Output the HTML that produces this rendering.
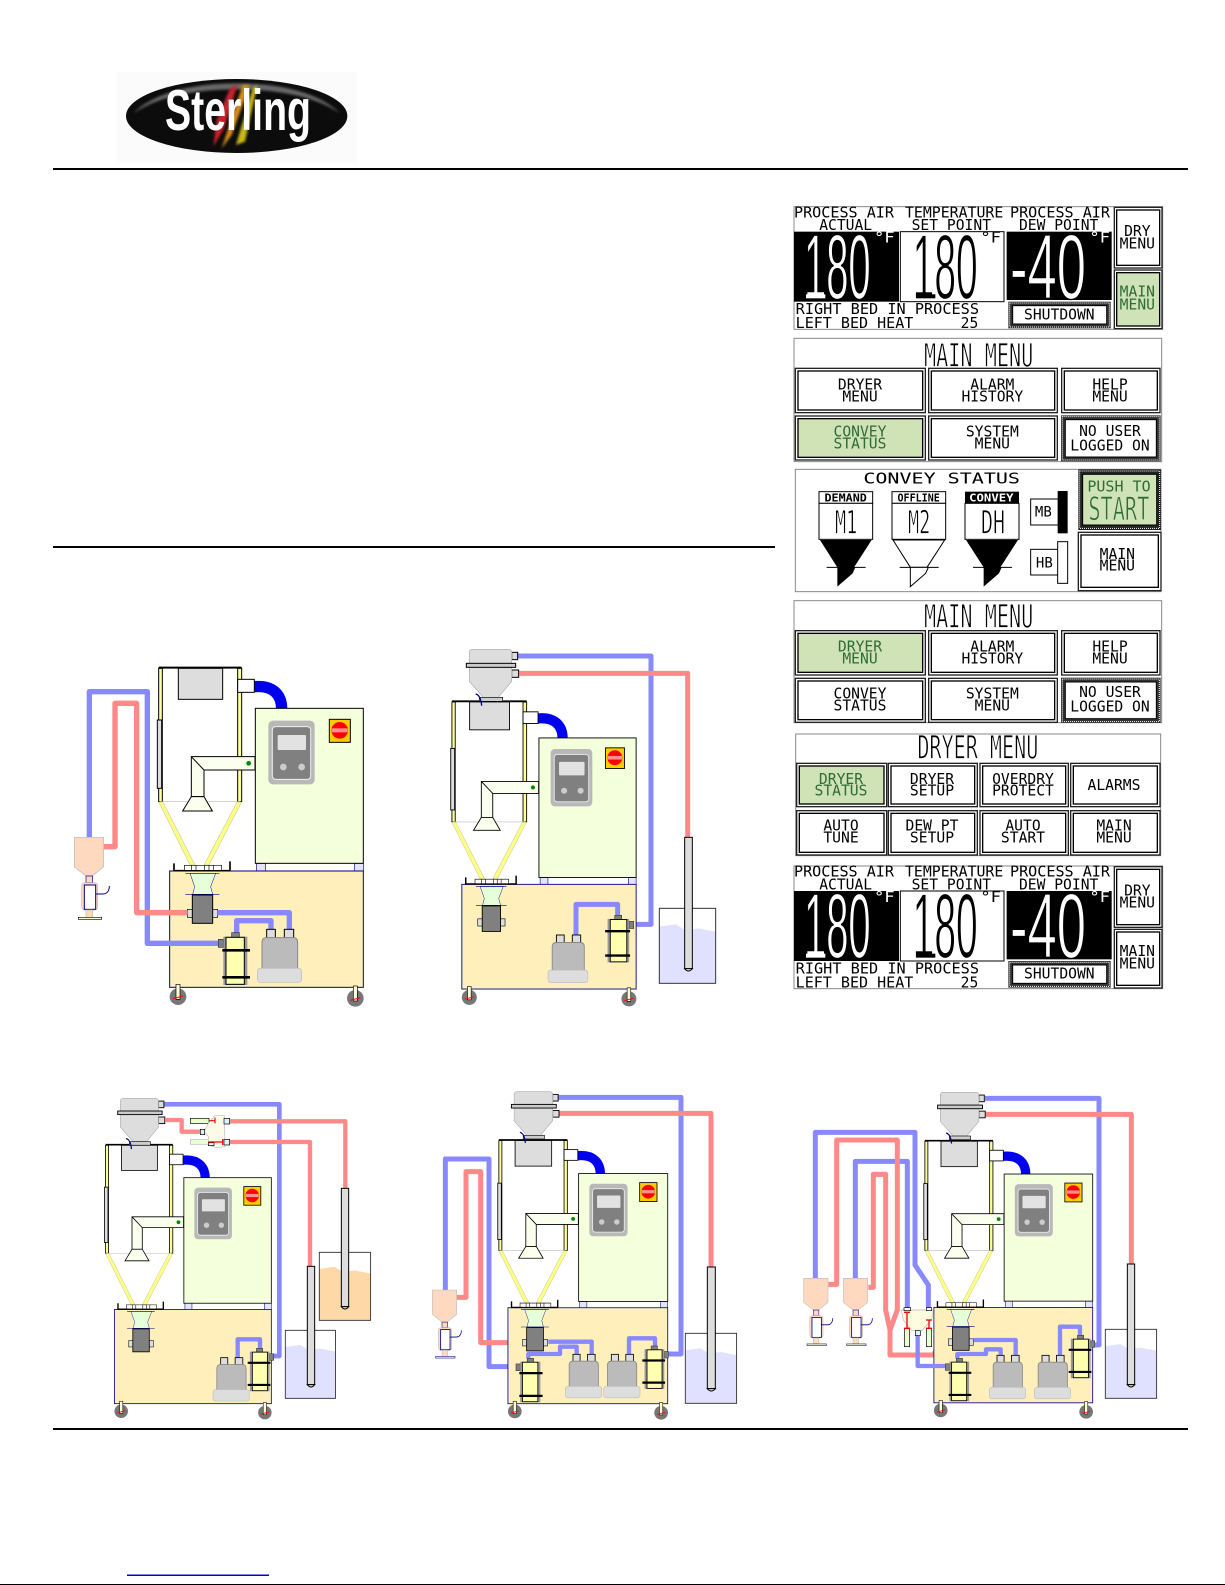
<!DOCTYPE html>
<html><head><meta charset="utf-8"><title>Sterling</title>
<style>
html,body{margin:0;padding:0;background:#fff;width:1225px;height:1585px;overflow:hidden}
svg{display:block}
.m{font-family:"DejaVu Sans Mono","Liberation Mono",monospace;font-size:44px;white-space:pre;fill:#000}
.c{text-anchor:middle}
.g{fill:#2f6b35}
.w{fill:#fff}
.big{font-family:"Liberation Sans",sans-serif;font-size:275px}
.bw{fill:#fff;stroke:#000;stroke-width:4}
.bb{fill:#000;stroke:#fff;stroke-width:4}
.t{font-size:96px;stroke:#fff;stroke-width:2.5}
.tg{stroke:#cfe3b7}
.o{fill:#fff;stroke:#222;stroke-width:4}
.i{fill:#fff;stroke:#000;stroke-width:4}
.gr{fill:#cfe3b7;stroke:#000;stroke-width:4}
.d{fill:none;stroke:#fff;stroke-width:3;stroke-dasharray:3 3}
.pb{fill:none;stroke:#8888ff;stroke-linejoin:round}
.pr{fill:none;stroke:#ff8888;stroke-linejoin:round}
.wand{fill:#ddd;stroke:#000;stroke-width:3}
</style></head><body>
<svg width="1225" height="1585" viewBox="0 0 1225 1585" xmlns="http://www.w3.org/2000/svg">
<defs>
<filter id="bl" x="-30%" y="-30%" width="160%" height="160%"><feGaussianBlur stdDeviation="4"/></filter>
<g id="caster"><circle cx="5" cy="30" r="25" fill="#777"/><rect x="-1" y="-7" width="12" height="45" fill="#ffffd8" stroke="#000" stroke-width="2"/><path d="M-10 36L20 28" stroke="#f00" stroke-width="3"/></g>
<g id="dryer">
<path d="M583 140C640 135 665 165 665 207" fill="none" stroke="#0000ee" stroke-width="34"/>
<rect x="300" y="85" width="240" height="400" fill="#fff"/>
<rect x="296" y="85" width="11" height="400" fill="#ffff99" stroke="#000" stroke-width="3"/>
<rect x="533" y="85" width="12" height="400" fill="#ffff99" stroke="#000" stroke-width="3"/>
<rect x="292" y="240" width="13" height="205" fill="#ddd" stroke="#000" stroke-width="3"/>
<path d="M296 83H545" stroke="#000" stroke-width="6"/>
<path d="M300 485H540" stroke="#bbb" stroke-width="2"/>
<rect x="355" y="85" width="133" height="93" fill="#ddd" stroke="#000" stroke-width="3"/>
<rect x="533" y="118" width="50" height="39" fill="#fff" stroke="#000" stroke-width="3"/>
<path d="M296 486H309L405 675H390ZM531 486H545L447 675H432Z" fill="#ffff80" stroke="#b5b5a0" stroke-width="1.5"/>
<path d="M394 350H585V390H432V470H394Z" fill="#fbffee" stroke="#000" stroke-width="3"/>
<path d="M394 350L432 390" stroke="#000" stroke-width="3"/>
<path d="M394 470H432L457 513H368Z" fill="#fbffee" stroke="#000" stroke-width="3"/>
<circle cx="566" cy="370" r="7" fill="#080"/>
<rect x="590" y="670" width="26" height="24" fill="#e4e4ff" stroke="#008" stroke-width="2"/>
<rect x="884" y="670" width="26" height="24" fill="#e4e4ff" stroke="#008" stroke-width="2"/>
<rect x="586" y="205" width="324" height="465" fill="#f4ffdc" stroke="#000" stroke-width="3"/>
<rect x="625" y="242" width="139" height="191" rx="14" fill="#b8b8b8"/>
<rect x="637" y="260" width="115" height="158" rx="10" fill="#808080" stroke="#eee" stroke-width="3"/>
<rect x="653" y="285" width="85" height="45" rx="3" fill="#e2e2e2"/>
<circle cx="670" cy="381" r="10" fill="#ccc"/><circle cx="725" cy="381" r="10" fill="#ccc"/>
<rect x="808" y="238" width="63" height="69" fill="#ffcc00" stroke="#000" stroke-width="3"/>
<circle cx="839" cy="271" r="25" fill="#f00"/>
<rect x="815" y="265" width="48" height="12" fill="#ff9090"/>
<rect x="329" y="693" width="581" height="349" fill="#fff0bb" stroke="#008" stroke-width="3"/>
<path d="M342 670V692H510V664" fill="none" stroke="#000" stroke-width="5"/>
<path d="M373 691V676H485V691ZM395 676V691M408 676V691M434 676V691M447 676V691M460 676V691" fill="#fff" stroke="#000" stroke-width="2"/>
<path d="M390 700H467L452 740L458 763H398L404 740Z" fill="#e5ffd8" stroke="#008" stroke-width="1.5"/>
<path d="M376 700H478M376 763H478" stroke="#008" stroke-width="2"/>
<rect x="382" y="808" width="91" height="24" fill="#ddd" stroke="#000" stroke-width="2"/>
<rect x="397" y="765" width="61" height="85" fill="#808080" stroke="#000" stroke-width="3"/>
<use href="#caster" x="349" y="1040"/><use href="#caster" x="881" y="1045"/>
</g>
<g id="filter">
<rect x="0" y="20" width="15" height="24" fill="#808080" stroke="#333" stroke-width="2"/>
<rect x="15" y="12" width="72" height="145" fill="#999"/>
<rect x="40" y="0" width="23" height="14" fill="#808080" stroke="#333" stroke-width="2"/>
<rect x="23" y="14" width="55" height="141" fill="#ffffb0" stroke="#000" stroke-width="3"/>
<path d="M12 53H95M12 134H95" stroke="#000" stroke-width="8"/>
</g>
<g id="pump">
<rect x="28" y="0" width="26" height="26" fill="#ddd" stroke="#000" stroke-width="3"/>
<rect x="81" y="0" width="28" height="26" fill="#ddd" stroke="#000" stroke-width="3"/>
<path d="M14 40Q14 25 28 25H108Q121 25 121 40V122H14Z" fill="#bbb" stroke="#888" stroke-width="3"/>
<rect x="0" y="117" width="133" height="42" rx="9" fill="#ddd" stroke="#bbb" stroke-width="2"/>
</g>
<g id="loader">
<path d="M0 0H88V88L54 116H35L0 88Z" fill="#ffd8c0" stroke="#bbb" stroke-width="2"/>
<rect x="35" y="116" width="20" height="20" fill="#ffd8c0" stroke="#008" stroke-width="2"/>
<rect x="22" y="136" width="48" height="82" rx="10" fill="#ffd8c0" stroke="#bbb" stroke-width="2"/>
<rect x="30" y="143" width="34" height="73" fill="#fff" stroke="#008" stroke-width="3"/>
<rect x="35" y="218" width="20" height="22" fill="#ffd8c0" stroke="#bbb" stroke-width="2"/>
<rect x="12" y="240" width="70" height="6" fill="#ffffd8" stroke="#008" stroke-width="2"/>
<path d="M64 170H85C100 170 105 158 105 146" fill="none" stroke="#008" stroke-width="3"/>
</g>
<g id="recv">
<rect x="245" y="37" width="18" height="22" fill="#ddd" stroke="#000" stroke-width="3"/>
<rect x="245" y="90" width="21" height="22" fill="#ddd" stroke="#000" stroke-width="3"/>
<path d="M118 38Q118 28 128 28H235Q245 28 245 38V124L205 172H160L118 124Z" fill="#ddd" stroke="#aaa" stroke-width="2"/>
<rect x="109" y="70" width="148" height="12" fill="#ccc" stroke="#000" stroke-width="3"/>
<rect x="148" y="172" width="70" height="12" fill="#ccc" stroke="#000" stroke-width="2"/>
<path d="M137 162Q152 165 155 197" fill="none" stroke="#008" stroke-width="4"/>
</g>
<g id="tank">
<path d="M0 55L50 48L77 65L117 60L169 70V225H0Z"/>
<rect x="0" y="0" width="169" height="225" fill="none" stroke="#333" stroke-width="3"/>
</g>
</defs>

<!-- logo -->
<g transform="translate(0,50) scale(.33333)">
<rect x="350" y="65" width="722" height="275" fill="#fbfbfb"/>
<ellipse cx="710" cy="198" rx="332" ry="111" fill="#0c0c0c"/>
<path d="M400 190C470 120 600 100 710 100C820 100 950 120 1020 190C940 135 820 118 710 118C600 118 480 135 400 190Z" fill="#888" opacity=".75" filter="url(#bl)"/>
<g filter="url(#bl)">
<path d="M690 115L712 105L672 235L640 290L650 210Z" fill="#c8202a"/>
<path d="M728 105L750 105L695 255L665 295Z" fill="#d88a18"/>
<path d="M758 115L772 105L735 275L708 285Z" fill="#c8b818"/>
</g>
<text x="495" y="240" font-family="Liberation Sans,sans-serif" font-weight="bold" font-size="172" fill="#fff" textLength="438" lengthAdjust="spacingAndGlyphs">Sterling</text>
</g>

<!-- rules -->
<rect x="53" y="168" width="1135" height="2" fill="#000"/>
<rect x="53" y="546" width="722" height="2" fill="#000"/>
<rect x="53" y="1428" width="1135" height="2" fill="#000"/>
<rect x="127" y="1574.5" width="142" height="1.5" fill="#0000e0"/>
<rect x="0" y="1584" width="1225" height="1" fill="#000"/>

<!-- D1 -->
<g transform="translate(60,640) scale(.33333)">
<use href="#dryer"/>
<path class="pb" stroke-width="16" d="M475 910H262V155H88V595"/>
<path class="pr" stroke-width="16" d="M382 818H230V190H165V620H132"/>
<path class="pb" stroke-width="16" d="M473 818H688V868M530 880V842H633V868"/>
<use href="#filter" transform="translate(475,878)"/>
<use href="#pump" transform="translate(592,868)"/>
<use href="#loader" transform="translate(43,592)"/>
</g>

<!-- D2 -->
<g transform="translate(430,640) scale(.33333)">
<path class="pb" stroke-width="15" d="M612 853H663V48H262"/>
<path class="pr" stroke-width="15" d="M268 100H773V592"/>
<g transform="translate(-200.6,109.3) scale(.9)"><use href="#dryer"/></g>
<path class="pb" stroke-width="15" d="M438 886V793H563V826"/>
<use href="#filter" transform="translate(611,826) scale(-.9,.9)"/>
<use href="#pump" transform="translate(354,885) scale(.9)"/>
<use href="#recv"/>
<use href="#tank" fill="#e0e0ff" transform="translate(688,805)"/>
<rect class="wand" x="764" y="592" width="23" height="394"/>
<path class="wand" d="M764 986Q775 1000 787 986Z" fill="#fff"/>
</g>

<!-- D3 -->
<g transform="translate(60,1080) scale(.33333)">
<path class="pb" stroke-width="14" d="M312 73H658V828H641"/>
<g transform="translate(-103.1,127) scale(.81)"><use href="#dryer"/></g>
<path class="pb" stroke-width="13" d="M533 835V778H600V815"/>
<use href="#filter" transform="translate(641,805) scale(-.82,.82)"/>
<use href="#pump" transform="translate(459,833) scale(.82)"/>
<g transform="translate(75,30) scale(.9)"><use href="#recv"/></g>
<path class="pr" stroke-width="13" d="M315 120H365V155H422M510 124H856V325M510 186H750V559"/>
<rect x="391" y="115" width="56" height="15" fill="#e8ffd0" stroke="#000" stroke-width="2"/>
<rect x="391" y="178" width="56" height="15" fill="#e8ffd8" stroke="#bbb" stroke-width="2"/>
<path d="M464 107H493L495 200L468 203L445 195V170L433 155L445 130Z" fill="#fdfbe8" stroke="#bbb" stroke-width="2"/>
<rect x="492" y="115" width="17" height="17" fill="#d8f4f8" stroke="#000" stroke-width="2"/>
<rect x="492" y="178" width="17" height="17" fill="#d8f4f8" stroke="#000" stroke-width="2"/>
<rect x="421" y="148" width="13" height="16" fill="#d8f4f8" stroke="#000" stroke-width="2"/>
<rect x="445" y="188" width="17" height="9" fill="#d8f4f8" stroke="#000" stroke-width="2"/>
<path d="M448 122H465M465 113V130M445 186H488M488 177V195" stroke="#f00" stroke-width="3.5"/>
<use href="#tank" fill="#e0e0ff" transform="translate(676,751) scale(.89,.907)"/>
<rect class="wand" x="742" y="559" width="22" height="355"/>
<path class="wand" d="M742 914Q753 928 764 914Z" fill="#fff"/>
<use href="#tank" fill="#ffd8a8" transform="translate(778,517) scale(.91,.907)"/>
<rect class="wand" x="844" y="325" width="22" height="355"/>
<path class="wand" d="M844 680Q855 694 866 680Z" fill="#fff"/>
</g>

<!-- D4 -->
<g transform="translate(420,1080) scale(.33333)">
<path class="pb" stroke-width="15" d="M415 52H783V822H745"/>
<path class="pr" stroke-width="15" d="M416 100H873V561"/>
<path class="pb" stroke-width="15" d="M76 632V237H207V860H290"/>
<path class="pr" stroke-width="15" d="M110 652H138V275H182V788H305"/>
<g transform="translate(-7.6,111.5) scale(.825)"><use href="#dryer"/></g>
<path class="pb" stroke-width="13" d="M385 785H515V823M325 835V822H420V800H470V823M627 823V775H705V798"/>
<use href="#filter" transform="translate(288,835) scale(.84)"/>
<use href="#filter" transform="translate(745,798) scale(-.82,.82)"/>
<use href="#pump" transform="translate(436,823) scale(.82)"/>
<use href="#pump" transform="translate(551,823) scale(.82)"/>
<g transform="translate(175,9.5) scale(.91)"><use href="#recv"/></g>
<use href="#loader" transform="translate(37,630) scale(.83)"/>
<use href="#tank" fill="#e0e0ff" transform="translate(796,760) scale(.91,.933)"/>
<rect class="wand" x="862" y="561" width="24" height="365"/>
<path class="wand" d="M862 926Q874 940 886 926Z" fill="#fff"/>
</g>

<!-- D5 -->
<g transform="translate(800,1080) scale(.33333)">
<path class="pb" stroke-width="15" d="M555 55H897V795H885"/>
<path class="pr" stroke-width="15" d="M557 103H994V552"/>
<path class="pb" stroke-width="15" d="M46 597V157H345V555L385 615V683"/>
<path class="pb" stroke-width="15" d="M166 597V244H322V683"/>
<path class="pr" stroke-width="15" d="M85 613H110V180H292V690L270 750"/>
<path class="pr" stroke-width="15" d="M205 622H220V283H257V690L270 750V825H400L430 780H445"/>
<g transform="translate(131.9,114) scale(.82)"><use href="#dryer"/></g>
<path class="pb" stroke-width="13" d="M353 765V858H436"/>
<path class="pb" stroke-width="13" d="M520 780H647V828M472 835V822H558V808H602V828M780 828V740H840V766"/>
<use href="#filter" transform="translate(436,835) scale(.82)"/>
<use href="#filter" transform="translate(884,766) scale(-.82,.82)"/>
<use href="#pump" transform="translate(568,826) scale(.82)"/>
<use href="#pump" transform="translate(703,826) scale(.82)"/>
<g transform="translate(313.6,11.5) scale(.91)"><use href="#recv"/></g>
<use href="#loader" transform="translate(11,595) scale(.83,.82)"/>
<use href="#loader" transform="translate(130,595) scale(.83,.82)"/>
<rect x="313" y="745" width="16" height="55" fill="#e8ffd0" stroke="#000" stroke-width="2"/>
<rect x="379" y="745" width="16" height="55" fill="#e8ffd0" stroke="#000" stroke-width="2"/>
<path d="M304 690H400L395 720L365 752H335L310 720Z" fill="#fdfbe0" stroke="#bbb" stroke-width="2"/>
<rect x="312" y="683" width="20" height="9" fill="#fff" stroke="#000" stroke-width="2"/>
<rect x="379" y="683" width="16" height="9" fill="#fff" stroke="#000" stroke-width="2"/>
<rect x="346" y="752" width="15" height="15" fill="#d8f4f8" stroke="#000" stroke-width="2"/>
<path d="M321 697V745M312 697H330M312 745H330M387 720V745M378 720H396M378 745H396" stroke="#f00" stroke-width="4"/>
<use href="#tank" fill="#e0e0ff" transform="translate(916,748) scale(.91,.92)"/>
<rect class="wand" x="982" y="552" width="22" height="362"/>
<path class="wand" d="M982 914Q993 928 1004 914Z" fill="#fff"/>
</g>

<!-- Screens -->
<g transform="translate(780,190) scale(.33333)">
<!-- status screen 1 -->
<rect x="42" y="50" width="1106" height="368" fill="#fff" stroke="#888" stroke-width="3"/>
<rect x="42" y="125" width="315" height="210" fill="#000"/>
<rect x="361" y="125" width="311" height="210" fill="#fff" stroke="#000" stroke-width="3"/>
<rect x="680" y="125" width="315" height="205" fill="#000"/>
<text class="m" x="42" y="82" textLength="300" lengthAdjust="spacingAndGlyphs">PROCESS AIR</text>
<text class="m" x="375" y="82" textLength="295" lengthAdjust="spacingAndGlyphs">TEMPERATURE</text>
<text class="m" x="690" y="82" textLength="300" lengthAdjust="spacingAndGlyphs">PROCESS AIR</text>
<text class="m c" x="197" y="120">ACTUAL</text>
<text class="m c" x="514" y="120">SET POINT</text>
<text class="m c" x="836" y="120">DEW POINT</text>
<text class="big bw" x="72" y="325" textLength="200" lengthAdjust="spacingAndGlyphs">180</text>
<rect x="78" y="313" width="58" height="12" fill="#fff"/>
<text class="big bb" x="398" y="325" textLength="195" lengthAdjust="spacingAndGlyphs">180</text>
<rect x="408" y="313" width="58" height="12" fill="#000"/>
<text class="big bw" x="690" y="325" textLength="228" lengthAdjust="spacingAndGlyphs">-40</text>
<text class="m w" x="282" y="158" textLength="62" lengthAdjust="spacingAndGlyphs">°F</text>
<text class="m" x="601" y="158" textLength="62" lengthAdjust="spacingAndGlyphs">°F</text>
<text class="m w" x="928" y="158" textLength="62" lengthAdjust="spacingAndGlyphs">°F</text>
<text class="m" x="47" y="372" textLength="550" lengthAdjust="spacingAndGlyphs">RIGHT BED IN PROCESS</text>
<text class="m" x="47" y="414" textLength="353" lengthAdjust="spacingAndGlyphs">LEFT BED HEAT</text>
<text class="m" x="542" y="414">25</text>
<rect x="685" y="335" width="307" height="80" fill="#333"/><rect x="689" y="339" width="299" height="72" class="d"/>
<rect x="698" y="347" width="282" height="55" fill="#fff" stroke="#000" stroke-width="3"/>
<text class="m c" x="838" y="388">SHUTDOWN</text>
<rect class="o" x="1003" y="52" width="143" height="182"/><rect class="i" x="1010" y="60" width="129" height="166"/>
<text class="m c" x="1072" y="138">DRY</text><text class="m c" x="1072" y="175">MENU</text>
<rect class="o" x="1003" y="240" width="143" height="176"/><rect class="gr" x="1010" y="248" width="129" height="160"/>
<text class="m c g" x="1072" y="320">MAIN</text><text class="m c g" x="1072" y="358">MENU</text>

<!-- main menu 1 -->
<rect x="42" y="445" width="1103" height="370" fill="#fff" stroke="#888" stroke-width="3"/>
<text class="m t" x="432" y="530" textLength="328" lengthAdjust="spacingAndGlyphs">MAIN MENU</text>
<rect class="o" x="46" y="535" width="390" height="133"/><rect class="i" x="54" y="543" width="374" height="117"/>
<rect class="o" x="446" y="535" width="386" height="133"/><rect class="i" x="454" y="543" width="370" height="117"/>
<rect class="o" x="845" y="535" width="295" height="133"/><rect class="i" x="853" y="543" width="279" height="117"/>
<rect class="o" x="46" y="678" width="390" height="132"/><rect class="gr" x="54" y="686" width="374" height="116"/>
<rect class="o" x="446" y="678" width="386" height="132"/><rect class="i" x="454" y="686" width="370" height="116"/>
<rect x="843" y="676" width="299" height="138" fill="#333"/><rect x="847" y="680" width="291" height="130" class="d"/>
<rect x="856" y="689" width="273" height="112" fill="#fff" stroke="#000" stroke-width="3"/>
<text class="m c" x="240" y="598">DRYER</text><text class="m c" x="240" y="634">MENU</text>
<text class="m c" x="637" y="598">ALARM</text><text class="m c" x="637" y="634">HISTORY</text>
<text class="m c" x="990" y="598">HELP</text><text class="m c" x="990" y="634">MENU</text>
<text class="m c g" x="240" y="740">CONVEY</text><text class="m c g" x="240" y="776">STATUS</text>
<text class="m c" x="637" y="740">SYSTEM</text><text class="m c" x="637" y="776">MENU</text>
<text class="m c" x="990" y="738">NO USER</text><text class="m c" x="990" y="782">LOGGED ON</text>

<!-- convey status -->
<rect x="46" y="838" width="1097" height="367" fill="#fff" stroke="#888" stroke-width="3"/>
<text class="m" x="250" y="880" textLength="470" lengthAdjust="spacingAndGlyphs">CONVEY STATUS</text>
<!-- M1 -->
<rect x="117" y="905" width="161" height="35" fill="#fff" stroke="#000" stroke-width="3"/>
<rect x="117" y="940" width="161" height="108" fill="#fff" stroke="#000" stroke-width="3"/>
<path d="M120 1050H275L222 1132H172Z" fill="#000"/><path d="M140 1132H257" stroke="#000" stroke-width="3"/>
<path d="M172 1132H226L218 1150L172 1190Z" fill="#000"/>
<text class="m c" x="197" y="934" font-weight="bold" style="font-size:32px" textLength="127" lengthAdjust="spacingAndGlyphs">DEMAND</text>
<text class="m t" x="165" y="1030" textLength="67" lengthAdjust="spacingAndGlyphs">M1</text>
<!-- M2 -->
<rect x="336" y="905" width="161" height="35" fill="#fff" stroke="#000" stroke-width="3"/>
<rect x="336" y="940" width="161" height="108" fill="#fff" stroke="#000" stroke-width="3"/>
<path d="M339 1050H494L441 1132H391Z" fill="#fff" stroke="#000" stroke-width="3"/><path d="M359 1132H476" stroke="#000" stroke-width="3"/>
<path d="M391 1132H445L437 1150L391 1190Z" fill="#fff" stroke="#000" stroke-width="3"/>
<text class="m c" x="416" y="934" font-weight="bold" style="font-size:32px" textLength="127" lengthAdjust="spacingAndGlyphs">OFFLINE</text>
<text class="m t" x="384" y="1030" textLength="67" lengthAdjust="spacingAndGlyphs">M2</text>
<!-- DH -->
<rect x="555" y="905" width="162" height="36" fill="#000"/>
<rect x="555" y="940" width="162" height="108" fill="#fff" stroke="#000" stroke-width="3"/>
<path d="M558 1050H714L661 1132H611Z" fill="#000"/><path d="M579 1132H696" stroke="#000" stroke-width="3"/>
<path d="M611 1132H665L657 1150L611 1190Z" fill="#000"/>
<text class="m c w" x="634" y="934" font-weight="bold" style="font-size:32px" textLength="133" lengthAdjust="spacingAndGlyphs">CONVEY</text>
<text class="m t" x="603" y="1030" textLength="72" lengthAdjust="spacingAndGlyphs">DH</text>
<!-- MB HB -->
<rect x="752" y="927" width="83" height="78" fill="#fff" stroke="#000" stroke-width="3"/>
<rect x="833" y="903" width="30" height="127" fill="#000"/>
<text class="m c" x="790" y="980" style="font-size:42px">MB</text>
<rect x="752" y="1078" width="83" height="77" fill="#fff" stroke="#000" stroke-width="3"/>
<rect x="833" y="1055" width="30" height="125" fill="#fff" stroke="#000" stroke-width="3"/>
<text class="m c" x="793" y="1132" style="font-size:42px">HB</text>
<!-- push to start -->
<rect x="895" y="838" width="248" height="182" fill="#222"/><rect x="899" y="843" width="240" height="172" class="d"/>
<rect x="908" y="853" width="222" height="152" fill="#cfe3b7" stroke="#000" stroke-width="3"/>
<text class="m g" x="922" y="905" textLength="190" lengthAdjust="spacingAndGlyphs">PUSH TO</text>
<text class="m t g tg" x="925" y="990" textLength="183" lengthAdjust="spacingAndGlyphs">START</text>
<rect class="o" x="895" y="1027" width="248" height="175"/><rect class="i" x="903" y="1035" width="232" height="157"/>
<text class="m c" x="1012" y="1107">MAIN</text><text class="m c" x="1012" y="1142">MENU</text>
</g>

<g transform="translate(780,590) scale(.33333)">
<!-- main menu 2 -->
<rect x="42" y="32" width="1103" height="366" fill="#fff" stroke="#888" stroke-width="3"/>
<text class="m t" x="432" y="112" textLength="328" lengthAdjust="spacingAndGlyphs">MAIN MENU</text>
<rect class="o" x="46" y="122" width="390" height="133"/><rect class="gr" x="54" y="130" width="374" height="117"/>
<rect class="o" x="446" y="122" width="386" height="133"/><rect class="i" x="454" y="130" width="370" height="117"/>
<rect class="o" x="845" y="122" width="295" height="133"/><rect class="i" x="853" y="130" width="279" height="117"/>
<rect class="o" x="46" y="265" width="390" height="132"/><rect class="i" x="54" y="273" width="374" height="116"/>
<rect class="o" x="446" y="265" width="386" height="132"/><rect class="i" x="454" y="273" width="370" height="116"/>
<rect x="843" y="263" width="299" height="136" fill="#333"/><rect x="847" y="267" width="291" height="128" class="d"/>
<rect x="856" y="276" width="273" height="110" fill="#fff" stroke="#000" stroke-width="3"/>
<text class="m c g" x="240" y="184">DRYER</text><text class="m c g" x="240" y="220">MENU</text>
<text class="m c" x="637" y="184">ALARM</text><text class="m c" x="637" y="220">HISTORY</text>
<text class="m c" x="990" y="184">HELP</text><text class="m c" x="990" y="220">MENU</text>
<text class="m c" x="240" y="325">CONVEY</text><text class="m c" x="240" y="361">STATUS</text>
<text class="m c" x="637" y="325">SYSTEM</text><text class="m c" x="637" y="361">MENU</text>
<text class="m c" x="990" y="321">NO USER</text><text class="m c" x="990" y="365">LOGGED ON</text>

<!-- dryer menu -->
<rect x="47" y="432" width="1095" height="365" fill="#fff" stroke="#888" stroke-width="3"/>
<text class="m t" x="412" y="505" textLength="363" lengthAdjust="spacingAndGlyphs">DRYER MENU</text>
<rect class="o" x="50" y="520" width="270" height="130"/><rect class="gr" x="58" y="528" width="254" height="114"/>
<rect class="o" x="325" y="520" width="267" height="130"/><rect class="i" x="333" y="528" width="251" height="114"/>
<rect class="o" x="600" y="520" width="265" height="130"/><rect class="i" x="608" y="528" width="249" height="114"/>
<rect class="o" x="872" y="520" width="268" height="130"/><rect class="i" x="880" y="528" width="252" height="114"/>
<rect class="o" x="50" y="662" width="270" height="133"/><rect class="i" x="58" y="670" width="254" height="117"/>
<rect class="o" x="325" y="662" width="267" height="133"/><rect class="i" x="333" y="670" width="251" height="117"/>
<rect class="o" x="600" y="662" width="265" height="133"/><rect class="i" x="608" y="670" width="249" height="117"/>
<rect class="o" x="872" y="662" width="268" height="133"/><rect class="i" x="880" y="670" width="252" height="117"/>
<text class="m c g" x="183" y="582">DRYER</text><text class="m c g" x="183" y="617">STATUS</text>
<text class="m c" x="456" y="582">DRYER</text><text class="m c" x="456" y="617">SETUP</text>
<text class="m c" x="729" y="582">OVERDRY</text><text class="m c" x="729" y="617">PROTECT</text>
<text class="m c" x="1002" y="600">ALARMS</text>
<text class="m c" x="183" y="722">AUTO</text><text class="m c" x="183" y="758">TUNE</text>
<text class="m c" x="456" y="722">DEW PT</text><text class="m c" x="456" y="758">SETUP</text>
<text class="m c" x="729" y="722">AUTO</text><text class="m c" x="729" y="758">START</text>
<text class="m c" x="1002" y="722">MAIN</text><text class="m c" x="1002" y="758">MENU</text>

<!-- status screen 2 -->
<g transform="translate(0,778)">
<rect x="42" y="50" width="1106" height="368" fill="#fff" stroke="#888" stroke-width="3"/>
<rect x="42" y="125" width="315" height="210" fill="#000"/>
<rect x="361" y="125" width="311" height="210" fill="#fff" stroke="#000" stroke-width="3"/>
<rect x="680" y="125" width="315" height="205" fill="#000"/>
<text class="m" x="42" y="82" textLength="300" lengthAdjust="spacingAndGlyphs">PROCESS AIR</text>
<text class="m" x="375" y="82" textLength="295" lengthAdjust="spacingAndGlyphs">TEMPERATURE</text>
<text class="m" x="690" y="82" textLength="300" lengthAdjust="spacingAndGlyphs">PROCESS AIR</text>
<text class="m c" x="197" y="120">ACTUAL</text>
<text class="m c" x="514" y="120">SET POINT</text>
<text class="m c" x="836" y="120">DEW POINT</text>
<text class="big bw" x="72" y="325" textLength="200" lengthAdjust="spacingAndGlyphs">180</text>
<rect x="78" y="313" width="58" height="12" fill="#fff"/>
<text class="big bb" x="398" y="325" textLength="195" lengthAdjust="spacingAndGlyphs">180</text>
<rect x="408" y="313" width="58" height="12" fill="#000"/>
<text class="big bw" x="690" y="325" textLength="228" lengthAdjust="spacingAndGlyphs">-40</text>
<text class="m w" x="282" y="158" textLength="62" lengthAdjust="spacingAndGlyphs">°F</text>
<text class="m" x="601" y="158" textLength="62" lengthAdjust="spacingAndGlyphs">°F</text>
<text class="m w" x="928" y="158" textLength="62" lengthAdjust="spacingAndGlyphs">°F</text>
<text class="m" x="47" y="372" textLength="550" lengthAdjust="spacingAndGlyphs">RIGHT BED IN PROCESS</text>
<text class="m" x="47" y="414" textLength="353" lengthAdjust="spacingAndGlyphs">LEFT BED HEAT</text>
<text class="m" x="542" y="414">25</text>
<rect x="685" y="335" width="307" height="80" fill="#333"/><rect x="689" y="339" width="299" height="72" class="d"/>
<rect x="698" y="347" width="282" height="55" fill="#fff" stroke="#000" stroke-width="3"/>
<text class="m c" x="838" y="388">SHUTDOWN</text>
<rect class="o" x="1003" y="52" width="143" height="182"/><rect class="i" x="1010" y="60" width="129" height="166"/>
<text class="m c" x="1072" y="138">DRY</text><text class="m c" x="1072" y="175">MENU</text>
<rect class="o" x="1003" y="240" width="143" height="176"/><rect class="i" x="1010" y="248" width="129" height="160"/>
<text class="m c" x="1072" y="320">MAIN</text><text class="m c" x="1072" y="358">MENU</text>
</g>
</g>
</svg>
</body></html>
